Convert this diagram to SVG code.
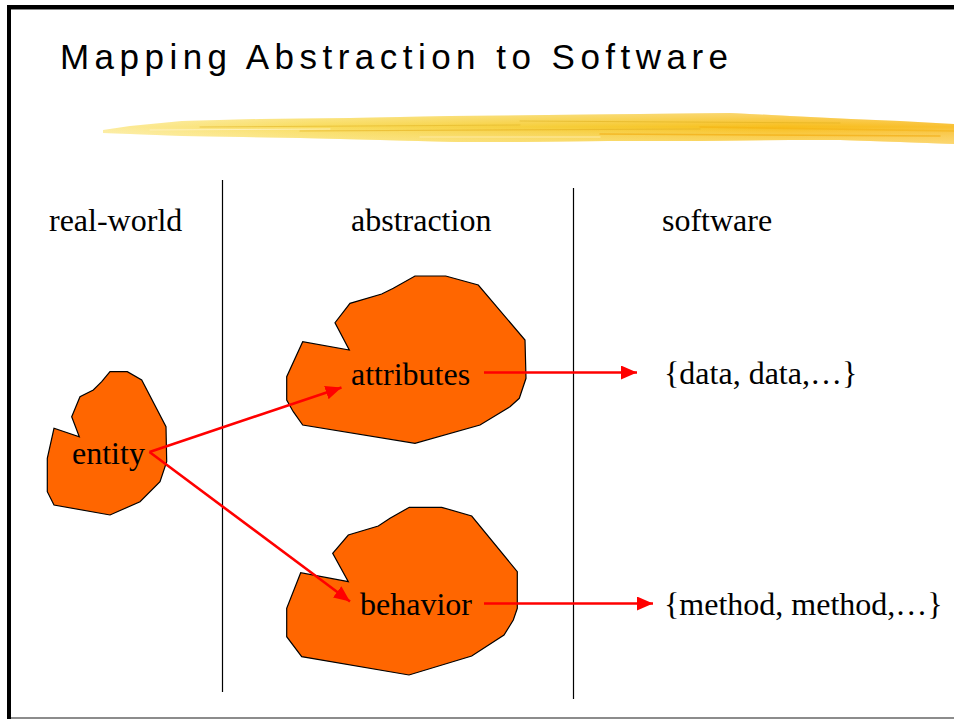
<svg xmlns="http://www.w3.org/2000/svg" width="954" height="719" viewBox="0 0 954 719">
<style>
.blob{fill:#FF6600;stroke:#000;stroke-width:1.2;stroke-linejoin:miter}
.lbl{font-family:"Liberation Serif","Times New Roman",serif;font-size:32px;fill:#000}
.div{stroke:#000;stroke-width:1.2}
.conn{stroke:#FF0000;stroke-width:2.6;fill:none}
.streak{fill:none;stroke-linecap:round}
</style>
<defs>
<marker id="ah" markerUnits="userSpaceOnUse" markerWidth="18" markerHeight="16" refX="16" refY="7" orient="auto">
<path d="M0,0 L16,7 L0,14 Z" fill="#FF0000"/>
</marker>
<linearGradient id="brush" x1="0" y1="0" x2="1" y2="0">
<stop offset="0" stop-color="#FCEB9A"/>
<stop offset="0.25" stop-color="#F9DC5C"/>
<stop offset="0.55" stop-color="#F6CC35"/>
<stop offset="0.8" stop-color="#F8BE1C"/>
<stop offset="1" stop-color="#F9C030"/>
</linearGradient>
<linearGradient id="brushV" x1="0" y1="0" x2="0" y2="1">
<stop offset="0" stop-color="#FFFFFF" stop-opacity="0.35"/>
<stop offset="0.45" stop-color="#FFFFFF" stop-opacity="0"/>
<stop offset="1" stop-color="#FFF4C0" stop-opacity="0.45"/>
</linearGradient>
</defs>
<rect width="954" height="719" fill="#fff"/>
<!-- frame -->
<rect x="7" y="5" width="947" height="4" fill="#000"/>
<rect x="11" y="9" width="943" height="1" fill="#888"/>
<rect x="7" y="5" width="4" height="714" fill="#000"/>
<rect x="11" y="717" width="943" height="2" fill="#8c8c8c"/>
<!-- title -->
<text id="title" x="60" y="69" font-family="'Liberation Sans',Arial,sans-serif" font-size="35" textLength="668" lengthAdjust="spacing" fill="#000">Mapping Abstraction to Software</text>
<!-- brush stroke -->
<g id="brushstroke">
<path d="M103,130 L130,126 L182,121 L260,119 L350,118 L450,116 L547,115 L640,114 L730,113 L790,116 L851,119 L900,121 L954,124 L954,144 L900,142 L840,140 L790,140 L700,141 L608,141 L520,142 L456,142 L380,140 L300,138 L243,137 L182,136 L130,134 L103,133 Z" fill="url(#brush)"/>
<path d="M103,130 L130,126 L182,121 L260,119 L350,118 L450,116 L547,115 L640,114 L730,113 L790,116 L851,119 L900,121 L954,124 L954,144 L900,142 L840,140 L790,140 L700,141 L608,141 L520,142 L456,142 L380,140 L300,138 L243,137 L182,136 L130,134 L103,133 Z" fill="url(#brushV)"/>
<path class="streak" d="M200,127 L520,125" stroke="#E2B526" stroke-width="1" opacity="0.6"/>
<path class="streak" d="M300,131 L700,129" stroke="#E5B020" stroke-width="1.2" opacity="0.6"/>
<path class="streak" d="M520,121 L840,123" stroke="#DFAE1E" stroke-width="1" opacity="0.55"/>
<path class="streak" d="M600,134 L940,136" stroke="#F2A90C" stroke-width="1.5" opacity="0.6"/>
<path class="streak" d="M420,137 L600,137" stroke="#FDE79A" stroke-width="1.5" opacity="0.8"/>
<path class="streak" d="M700,127 L954,131" stroke="#F3B010" stroke-width="1.5" opacity="0.5"/>
<path class="streak" d="M150,130 L330,129" stroke="#FFF3C2" stroke-width="1" opacity="0.8"/>
</g>
<!-- column dividers and headers -->
<g id="columns">
<line class="div" x1="222.5" y1="180" x2="222.5" y2="692"/>
<line class="div" x1="573.5" y1="188" x2="573.5" y2="699"/>
<text class="lbl" x="49" y="231">real-world</text>
<text class="lbl" x="351" y="231">abstraction</text>
<text class="lbl" x="662" y="231">software</text>
</g>
<!-- nodes -->
<g id="entity">
<polygon class="blob" points="110,371.7 127.3,371.7 141.7,380 166,426.7 166.7,461.7 160,481.7 140,501.7 110,515 54,505 47.3,491.7 47.3,458.3 54,428.3 79.3,436.7 71.7,416.7 80,396.7 93.3,390 101.7,381.7"/>
<text class="lbl" x="72" y="464">entity</text>
</g>
<g id="attributes">
<polygon class="blob" points="415,276 445.7,276 478.3,285 525,340 526,378.3 519.3,398.3 510,406.7 480,425 415,443.3 302.7,425 293.3,411.7 286.7,400 286.7,376.7 302.7,341.7 349.3,350 335,322.7 350,303.3 381.7,294 393.3,288.3"/>
<text class="lbl" x="351" y="384.5">attributes</text>
</g>
<g id="behavior">
<polygon class="blob" points="409.3,507.3 441.7,507.3 471.7,516 517.3,571.7 517.3,608.3 513.3,620 504,635 471.7,656 409,675 301.7,656.7 286.7,636.7 286.7,608.3 300.7,572.7 348.3,581.7 332.7,553.3 348.3,535 378.3,526 390,518.3"/>
<text class="lbl" x="360" y="615">behavior</text>
</g>
<g id="data">
<text class="lbl" x="664" y="384">{data, data,…}</text>
</g>
<g id="methods">
<text class="lbl" x="664" y="615">{method, method,…}</text>
</g>
<!-- connectors -->
<g id="connectors">
<line class="conn" x1="149.5" y1="452" x2="341.5" y2="387.5" marker-end="url(#ah)"/>
<line class="conn" x1="149.5" y1="452" x2="350" y2="601.5" marker-end="url(#ah)"/>
<line class="conn" x1="484" y1="372.5" x2="637" y2="372.5" marker-end="url(#ah)"/>
<line class="conn" x1="484" y1="603.5" x2="653" y2="603.5" marker-end="url(#ah)"/>
</g>
</svg>
